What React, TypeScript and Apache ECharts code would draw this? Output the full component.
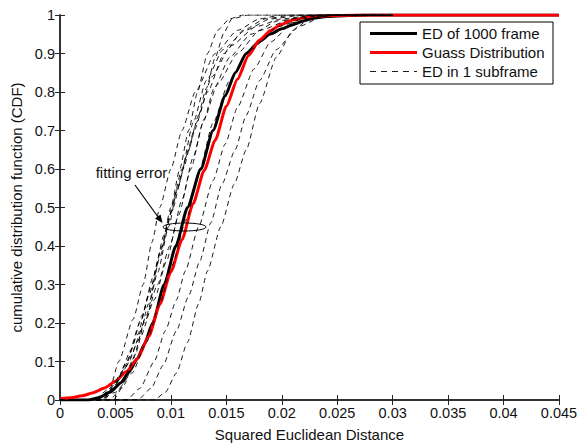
import React, { useEffect, useRef } from "react";
import * as echarts from "echarts";

const xTicks = { min: 0, max: 0.045, interval: 0.005 };
const yTicks = { min: 0, max: 1, interval: 0.1 };

const legendNames = ["ED of 1000 frame", "Guass Distribution", "ED in 1 subframe"];

const edFrame: number[][] = [
  [0, 0], [0.0025, 0], [0.0035, 0.006], [0.0045, 0.02], [0.0055, 0.045], [0.0062, 0.072],
  [0.007, 0.108], [0.0076, 0.145], [0.00836, 0.2], [0.0094, 0.3], [0.01045, 0.4], [0.0115, 0.5],
  [0.0127, 0.6], [0.0138, 0.7], [0.0149, 0.79], [0.0158, 0.85], [0.0168, 0.9], [0.018, 0.932],
  [0.019, 0.951], [0.02, 0.964], [0.021, 0.975], [0.022, 0.985], [0.023, 0.992], [0.024, 0.996],
  [0.026, 0.999], [0.028, 1], [0.045, 1],
];

const gauss: number[][] = [
  [0, 0.004], [0.001, 0.006], [0.002, 0.011], [0.003, 0.019], [0.004, 0.031], [0.005, 0.049],
  [0.006, 0.074], [0.007, 0.108], [0.008, 0.165], [0.009, 0.248], [0.01, 0.333], [0.011, 0.416],
  [0.012, 0.51], [0.013, 0.596], [0.014, 0.675], [0.015, 0.763], [0.016, 0.833], [0.017, 0.895],
  [0.018, 0.935], [0.019, 0.96], [0.02, 0.976], [0.021, 0.987], [0.022, 0.993], [0.023, 0.997],
  [0.025, 0.999], [0.027, 1], [0.045, 1],
];

const sub1 = [[0, 0], [0.0035, 0], [0.0045, 0.03], [0.0053, 0.1], [0.0066, 0.21], [0.0075, 0.3], [0.0083, 0.41], [0.009, 0.5], [0.01, 0.6], [0.011, 0.7], [0.0122, 0.8], [0.014, 0.9], [0.016, 0.96], [0.018, 0.99], [0.02, 1], [0.03, 1]];
const sub2 = [[0, 0], [0.0045, 0], [0.0055, 0.03], [0.0065, 0.1], [0.0078, 0.22], [0.0088, 0.33], [0.0098, 0.45], [0.0106, 0.55], [0.0115, 0.64], [0.0123, 0.72], [0.0132, 0.81], [0.014, 0.89], [0.0148, 0.955], [0.0155, 0.99], [0.017, 1], [0.03, 1]];
const sub3 = [[0, 0], [0.004, 0], [0.005, 0.04], [0.006, 0.1], [0.0072, 0.2], [0.0083, 0.3], [0.0092, 0.4], [0.0102, 0.5], [0.0111, 0.6], [0.0121, 0.7], [0.0133, 0.8], [0.0148, 0.9], [0.0165, 0.96], [0.0185, 0.99], [0.021, 1], [0.03, 1]];
const sub4 = [[0, 0], [0.0038, 0], [0.0048, 0.03], [0.0058, 0.08], [0.007, 0.17], [0.008, 0.27], [0.009, 0.38], [0.0099, 0.48], [0.011, 0.6], [0.012, 0.72], [0.0132, 0.83], [0.0147, 0.91], [0.0167, 0.96], [0.019, 0.99], [0.022, 1], [0.03, 1]];
const sub5 = [[0, 0], [0.003, 0], [0.0045, 0.03], [0.0058, 0.08], [0.0072, 0.16], [0.0085, 0.26], [0.0096, 0.36], [0.0107, 0.48], [0.0118, 0.6], [0.0129, 0.72], [0.0139, 0.81], [0.0153, 0.89], [0.0172, 0.95], [0.0197, 0.985], [0.023, 1], [0.03, 1]];
const sub6 = [[0, 0], [0.0032, 0], [0.0048, 0.03], [0.0062, 0.1], [0.0076, 0.2], [0.0088, 0.3], [0.0099, 0.4], [0.011, 0.52], [0.012, 0.63], [0.013, 0.73], [0.0142, 0.82], [0.016, 0.9], [0.018, 0.96], [0.021, 0.99], [0.024, 1], [0.03, 1]];
const sub7 = [[0, 0], [0.0035, 0], [0.005, 0.02], [0.0065, 0.07], [0.0078, 0.15], [0.009, 0.25], [0.0101, 0.35], [0.0114, 0.47], [0.0126, 0.6], [0.0138, 0.72], [0.0153, 0.83], [0.0172, 0.91], [0.0197, 0.97], [0.022, 0.99], [0.025, 1], [0.03, 1]];
const sub8 = [[0, 0], [0.006, 0], [0.0072, 0.03], [0.0085, 0.1], [0.0095, 0.18], [0.0105, 0.26], [0.0113, 0.335], [0.0125, 0.45], [0.0138, 0.57], [0.0149, 0.665], [0.016, 0.76], [0.0175, 0.86], [0.019, 0.93], [0.021, 0.98], [0.024, 1], [0.03, 1]];
const sub9 = [[0, 0], [0.0085, 0], [0.0095, 0.02], [0.0105, 0.07], [0.0115, 0.15], [0.0125, 0.25], [0.0133, 0.335], [0.0145, 0.45], [0.0157, 0.56], [0.0168, 0.65], [0.018, 0.77], [0.0195, 0.89], [0.021, 0.96], [0.0225, 0.99], [0.025, 1], [0.03, 1]];
const sub10 = [[0, 0], [0.007, 0], [0.0082, 0.03], [0.0093, 0.09], [0.0105, 0.18], [0.0116, 0.27], [0.0126, 0.36], [0.0136, 0.46], [0.0146, 0.56], [0.0158, 0.65], [0.0168, 0.74], [0.018, 0.83], [0.0195, 0.91], [0.0215, 0.97], [0.024, 1], [0.03, 1]];
const sub11 = [[0, 0], [0.0048, 0], [0.0058, 0.04], [0.0068, 0.12], [0.008, 0.25], [0.009, 0.37], [0.01, 0.5], [0.0108, 0.6], [0.0116, 0.7], [0.0124, 0.8], [0.0133, 0.9], [0.0142, 0.96], [0.0153, 0.99], [0.0165, 1], [0.03, 1]];
const sub12 = [[0, 0], [0.0038, 0], [0.0052, 0.05], [0.0064, 0.13], [0.0074, 0.22], [0.0084, 0.32], [0.0094, 0.43], [0.0105, 0.54], [0.0116, 0.65], [0.0125, 0.74], [0.0137, 0.84], [0.0154, 0.92], [0.0177, 0.97], [0.02, 0.99], [0.023, 1], [0.03, 1]];

const subframes = [sub1, sub2, sub3, sub4, sub5, sub6, sub7, sub8, sub9, sub10, sub11, sub12];

const FONT = "'Liberation Sans', Arial, Helvetica, sans-serif";
const AX = "#262626";

const fmt = (v: number) => String(Number(v.toFixed(4)));

export default function App() {
  const ref = useRef<HTMLDivElement>(null);
  useEffect(() => {
    document.body.style.margin = "0";
    const chart = echarts.init(ref.current!, null, { renderer: "svg" });
    const axisLine = { show: true, lineStyle: { color: AX, width: 1.5 } };
    const tick = { show: true, inside: true, length: 5, lineStyle: { color: AX, width: 1 } };
    const series: any[] = [
      {
        name: legendNames[0], type: "line", data: edFrame, showSymbol: false, symbol: "none",
        smooth: 0.2, smoothMonotone: "x", lineStyle: { color: "#000", width: 3 }, z: 3,
      },
      {
        name: legendNames[1], type: "line", data: gauss, showSymbol: false, symbol: "none",
        smooth: 0.2, smoothMonotone: "x", lineStyle: { color: "#ff0000", width: 3 }, z: 4,
      },
      ...subframes.map((d) => ({
        name: legendNames[2], type: "line", data: d, showSymbol: false, symbol: "none",
        smooth: 0.2, smoothMonotone: "x", lineStyle: { color: "#000", width: 0.9, type: [5, 4] }, z: 5,
      })),
    ];
    chart.setOption({
      animation: false,
      backgroundColor: "#fff",
      textStyle: { fontFamily: FONT },
      grid: { left: 60, top: 15, right: 22, bottom: 38, containLabel: false },
      xAxis: [
        {
          type: "value", ...xTicks, position: "bottom", axisLine, axisTick: tick,
          splitLine: { show: false },
          axisLabel: { fontSize: 14.5, color: "#111", margin: 5, fontFamily: FONT, formatter: fmt },
          name: "Squared Euclidean Distance", nameLocation: "middle", nameGap: 27,
          nameTextStyle: { fontSize: 15, color: "#111", fontFamily: FONT },
        },
        {
          type: "value", ...xTicks, position: "top", axisLine, axisTick: tick,
          splitLine: { show: false }, axisLabel: { show: false },
        },
      ],
      yAxis: [
        {
          type: "value", ...yTicks, position: "left", axisLine, axisTick: tick,
          splitLine: { show: false },
          axisLabel: { fontSize: 14.5, color: "#111", margin: 5, fontFamily: FONT, formatter: fmt },
          name: "cumulative distribution function (CDF)", nameLocation: "middle", nameGap: 33,
          nameTextStyle: { fontSize: 15, color: "#111", fontFamily: FONT },
        },
        {
          type: "value", ...yTicks, position: "right", axisLine, axisTick: tick,
          splitLine: { show: false }, axisLabel: { show: false },
        },
      ],
      series,
      graphic: [
        {
          type: "text", x: 131.5, y: 172, z: 100,
          style: { text: "fitting error", fontSize: 15, fontFamily: FONT, fill: "#111", align: "center", verticalAlign: "middle" },
        },
        {
          type: "line", z: 100, shape: { x1: 135, y1: 185, x2: 159.5, y2: 219 },
          style: { stroke: "#000", lineWidth: 1.2 },
        },
        {
          type: "polygon", z: 100, shape: { points: [[162.5, 223], [155, 218.6], [160.6, 214.4]] },
          style: { fill: "#000" },
        },
        {
          type: "ellipse", z: 100, shape: { cx: 184.5, cy: 227, rx: 21.5, ry: 4 },
          style: { stroke: "#000", lineWidth: 1, fill: "none" },
        },
        {
          type: "group", z: 100,
          children: [
            { type: "rect", shape: { x: 360, y: 22, width: 193, height: 62 }, style: { fill: "#fff", stroke: "#000", lineWidth: 1 } },
            { type: "line", shape: { x1: 370, y1: 33.5, x2: 417, y2: 33.5 }, style: { stroke: "#000", lineWidth: 3 } },
            { type: "line", shape: { x1: 370, y1: 52.5, x2: 417, y2: 52.5 }, style: { stroke: "#ff0000", lineWidth: 3 } },
            { type: "line", shape: { x1: 370, y1: 71.5, x2: 417, y2: 71.5 }, style: { stroke: "#000", lineWidth: 0.9, lineDash: [6, 5] } },
            { type: "text", x: 422, y: 33.5, style: { text: legendNames[0], fontSize: 15, fontFamily: FONT, fill: "#111", verticalAlign: "middle" } },
            { type: "text", x: 422, y: 52.5, style: { text: legendNames[1], fontSize: 15, fontFamily: FONT, fill: "#111", verticalAlign: "middle" } },
            { type: "text", x: 422, y: 71.5, style: { text: legendNames[2], fontSize: 15, fontFamily: FONT, fill: "#111", verticalAlign: "middle" } },
          ],
        },
      ],
    });
    return () => chart.dispose();
  }, []);
  return <div ref={ref} style={{ width: 581, height: 447 }} />;
}
